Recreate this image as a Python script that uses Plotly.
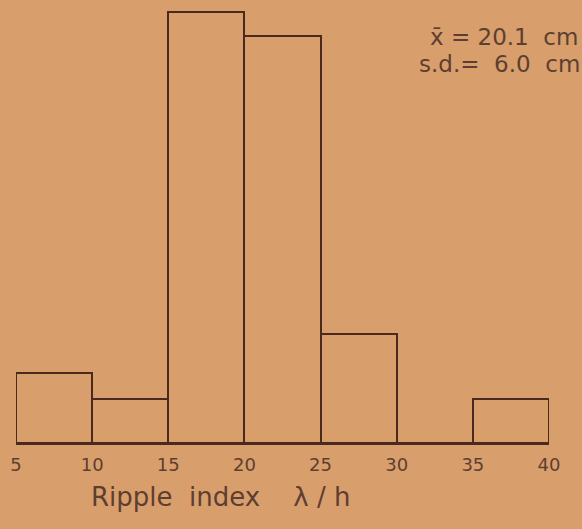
import plotly.graph_objects as go

# Histogram of ripple index (lambda/h)
bin_left = [5, 10, 15, 20, 25, 30, 35]
bin_width = 5
counts = [3.2, 2.0, 19.8, 18.7, 5.0, 0, 2.0]
tick_vals = [5, 10, 15, 20, 25, 30, 35, 40]
tick_text = ["5", "10", "15", "20", "25", "30", "35", "40"]
stats_text = ["x\u0304 = 20.1  cm", "s.d.=  6.0  cm"]
x_title = "Ripple  index    \u03bb / h"

bg = "#D89F6D"
ink = "#4A2A1E"
txt = "#5E3E30"
font_family = "DejaVu Sans"

fig = go.Figure()
fig.add_trace(go.Bar(
    x=[b + bin_width / 2 for b in bin_left],
    y=counts,
    width=[bin_width] * len(bin_left),
    marker=dict(color="rgba(0,0,0,0)", line=dict(color=ink, width=2)),
    hoverinfo="skip",
))

fig.add_annotation(x=1.058, y=0.9165, xref="paper", yref="paper", text=stats_text[0],
                   showarrow=False, xanchor="right", yanchor="middle",
                   font=dict(family=font_family, size=23, color=txt))
fig.add_annotation(x=1.062, y=0.856, xref="paper", yref="paper", text=stats_text[1],
                   showarrow=False, xanchor="right", yanchor="middle",
                   font=dict(family=font_family, size=23, color=txt))
fig.add_annotation(x=0.383, y=-0.122, xref="paper", yref="paper", text=x_title,
                   showarrow=False, xanchor="center", yanchor="middle",
                   font=dict(family=font_family, size=26, color=txt))

fig.update_layout(
    width=582, height=529,
    margin=dict(l=16, r=33, t=0, b=86),
    paper_bgcolor=bg, plot_bgcolor=bg,
    showlegend=False,
    bargap=0,
    xaxis=dict(range=[5, 40], tickvals=tick_vals, ticktext=tick_text,
               showgrid=False, zeroline=False, showline=True, linecolor=ink, linewidth=2,
               ticks="", ticklabelstandoff=4, automargin=False,
               tickfont=dict(family=font_family, size=18, color=txt)),
    yaxis=dict(range=[0, 20.35], visible=False, showgrid=False, zeroline=False),
)

fig.write_html("out.html")
